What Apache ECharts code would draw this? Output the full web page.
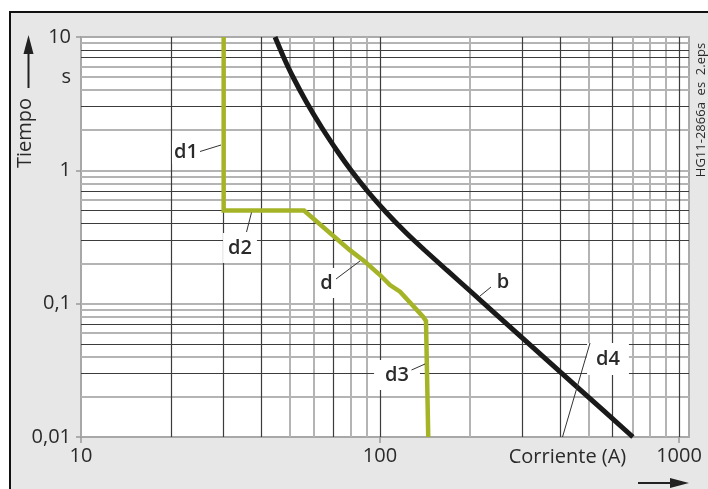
<!DOCTYPE html>
<html><head><meta charset="utf-8">
<script src="https://cdn.jsdelivr.net/npm/echarts@6/dist/echarts.min.js"></script>
<style>html,body{margin:0;padding:0;background:#fff}#c{width:708px;height:489px}</style>
</head><body><div id="c"></div>
<script>
// Axis tick labels
const xTickValues = [10, 100, 1000];
const xTickLabels = ['10', '100', '1000'];
const yTickValues = [0.01, 0.1, 1, 5, 10];
const yTickLabels = ['0,01', '0,1', '1', 's', '10'];
// grid lines
const xGridDark = [20, 30, 40, 70, 100, 300, 400, 600, 1000];
const xGridLight = [50, 60, 80, 90, 200, 500, 700, 800, 900];
const yGridDark = [8, 7, 3, 0.7, 0.5, 0.4, 0.3, 0.07, 0.05, 0.03];
const yGridLight = [9, 6, 5, 4, 2, 1, 0.9, 0.8, 0.6, 0.2, 0.1, 0.09, 0.08, 0.06, 0.04, 0.02];
// curve b (black)
const bCurrent = [44.56, 47.57, 51.17, 56.73, 63.68, 72.31, 79.86, 91.31, 104.6, 121.5, 140.8, 167.0, 198.5, 297.1, 456.6, 701.2];
const bTime    = [10, 7.079, 5.012, 3.255, 2.114, 1.373, 1.006, 0.688, 0.487, 0.3447, 0.2527, 0.1789, 0.1266, 0.0562, 0.0237, 0.01];
// curve d (green)
const dCurrent = [30, 30, 55.7, 79.3, 89.1, 100, 108, 116.7, 139.3, 142.5, 145];
const dTime    = [10, 0.5, 0.5, 0.252, 0.206, 0.164, 0.138, 0.123, 0.0798, 0.0741, 0.01];

const FONT = '"Open Sans", "Noto Sans", sans-serif';
const zip = (a, b) => a.map((v, i) => [v, b[i]]);

const gridLines = [].concat(
  xGridLight.map(v => ({xAxis: v, lineStyle: {color: '#b4b4b4', width: 2, type: 'solid'}})),
  yGridLight.map(v => ({yAxis: v, lineStyle: {color: '#b4b4b4', width: 2, type: 'solid'}})),
  xGridDark.map(v => ({xAxis: v, lineStyle: {color: '#3c3c3c', width: 1.2, type: 'solid'}})),
  yGridDark.map(v => ({yAxis: v, lineStyle: {color: '#3c3c3c', width: 1.2, type: 'solid'}}))
);

const chart = echarts.init(document.getElementById('c'), null, {renderer: 'canvas'});

function lbl(text, cx, cy, padH, padV) {
  return {type: 'text', z: 20, style: {text, x: cx, y: cy, align: 'center', verticalAlign: 'middle',
    font: '600 20px ' + FONT, fill: '#2a2a2a', backgroundColor: '#fff', padding: [padV, padH]}};
}
function lead(x1, y1, x2, y2) {
  return {type: 'line', z: 21, shape: {x1, y1, x2, y2}, style: {stroke: '#333', lineWidth: 1}};
}

chart.setOption({
  animation: false,
  backgroundColor: '#fff',
  grid: {left: 81, top: 37, right: 19, bottom: 52, show: true, backgroundColor: '#fff', borderColor: '#aaa', borderWidth: 2},
  xAxis: {
    type: 'log', logBase: 10, min: 10, max: 1080,
    axisLine: {show: true, lineStyle: {color: '#a8a8a8', width: 2}},
    axisTick: {show: true, length: 6, customValues: xTickValues, lineStyle: {color: '#999', width: 1.5}},
    axisLabel: {customValues: xTickValues, formatter: v => xTickLabels[xTickValues.indexOf(v)] ?? '',
      color: '#2a2a2a', fontFamily: FONT, fontSize: 20, margin: 9},
    splitLine: {show: false}, minorTick: {show: false}, minorSplitLine: {show: false}
  },
  yAxis: {
    type: 'log', logBase: 10, min: 0.01, max: 10,
    axisLine: {show: true, lineStyle: {color: '#a8a8a8', width: 2}},
    axisTick: {show: true, length: 5, customValues: [0.01, 0.1, 1, 10], lineStyle: {color: '#999', width: 1.5}},
    axisLabel: {customValues: yTickValues, formatter: v => yTickLabels[yTickValues.indexOf(v)] ?? '',
      color: '#2a2a2a', fontFamily: FONT, fontSize: 20, margin: 10},
    splitLine: {show: false}, minorTick: {show: false}, minorSplitLine: {show: false}
  },
  series: [
    {type: 'line', z: 1, data: [], silent: true,
     markLine: {silent: true, symbol: ['none', 'none'], label: {show: false}, z: 1, data: gridLines}},
    {type: 'line', z: 5, data: zip(dCurrent, dTime), showSymbol: false, symbol: 'none',
     lineStyle: {color: '#a5b427', width: 4.5, join: 'miter'}},
    {type: 'line', z: 6, data: zip(bCurrent, bTime), showSymbol: false, symbol: 'none', smooth: 0.15,
     lineStyle: {color: '#1a1a1a', width: 5}}
  ],
  graphic: [
    {type: 'rect', z: -10, shape: {x: 10, y: 12, width: 800, height: 600}, style: {fill: '#e7e7e7', stroke: '#111', lineWidth: 2}},
    // Tiempo with arrow
    {type: 'text', z: 20, x: 25, y: 133, rotation: Math.PI / 2,
     style: {text: 'Tiempo', align: 'center', verticalAlign: 'middle', font: '20px ' + FONT, fill: '#2a2a2a'}},
    {type: 'line', z: 20, shape: {x1: 28.5, y1: 88, x2: 28.5, y2: 50}, style: {stroke: '#222', lineWidth: 2}},
    {type: 'polygon', z: 20, shape: {points: [[28.5, 35], [23.5, 54], [33.5, 54]]}, style: {fill: '#222'}},
    // current arrow
    {type: 'line', z: 20, shape: {x1: 638, y1: 483, x2: 675, y2: 483}, style: {stroke: '#222', lineWidth: 2}},
    {type: 'polygon', z: 20, shape: {points: [[689, 483], [670, 478], [670, 488]]}, style: {fill: '#222'}},
    {type: 'text', z: 20, style: {text: 'Corriente (A)', x: 567.5, y: 457, align: 'center', verticalAlign: 'middle', font: '20px ' + FONT, fill: '#2a2a2a'}},
    {type: 'text', z: 20, x: 701, y: 110, rotation: Math.PI / 2,
     style: {text: 'HG11-2866a  es  2.eps', align: 'center', verticalAlign: 'middle', font: '13px ' + FONT, fill: '#2a2a2a'}},
    // curve labels
    lbl('d1', 186, 152, 2, 2), lead(200, 151.5, 221, 145),
    lbl('d2', 240, 248, 5, 5), lead(246.5, 232, 251.5, 212.5),
    lbl('d', 326.5, 283, 4, 5), lead(336, 279, 360, 261),
    lbl('d3', 397, 375, 11, 5), lead(411.5, 370, 425, 364),
    lbl('b', 503, 282, 3, 3), lead(480, 296, 491, 287),
    lead(590, 343, 562.5, 437), lbl('d4', 608, 359, 9, 6)
  ]
});
</script></body></html>
